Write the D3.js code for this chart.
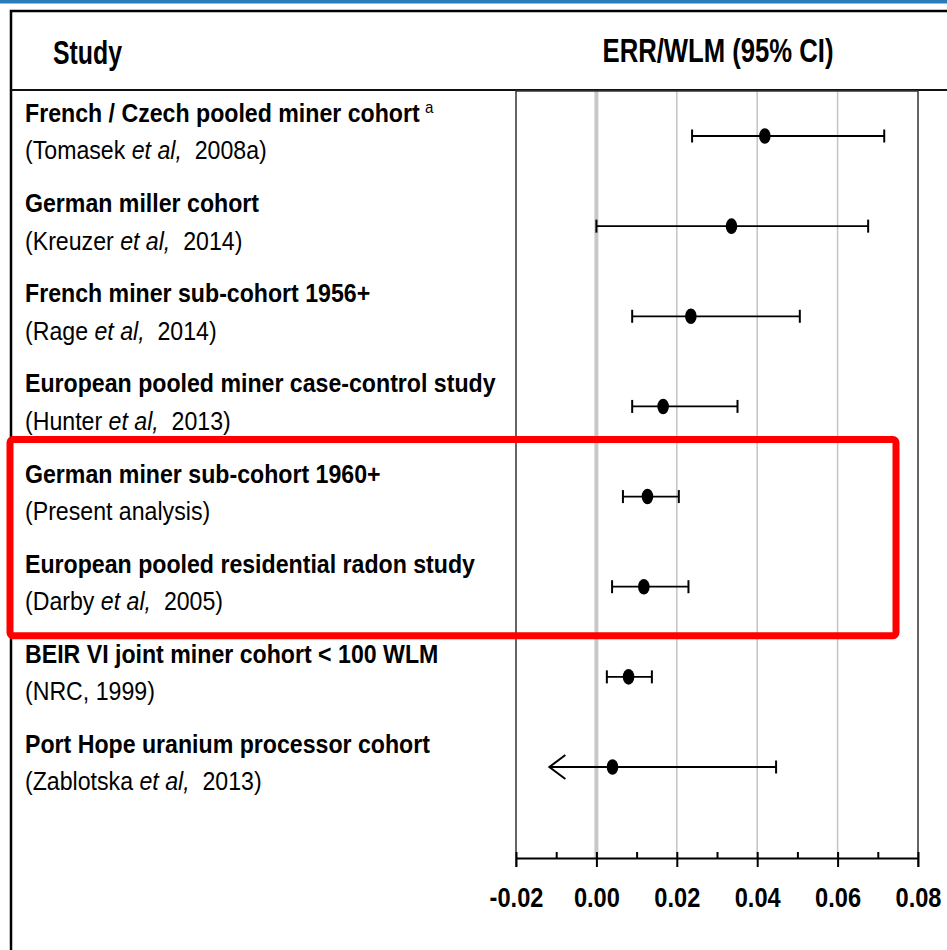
<!DOCTYPE html>
<html>
  <head>
    <meta charset="utf-8">
    <title>ERR/WLM forest plot</title>
    <script src="https://d3js.org/d3.v7.min.js"></script>
    <style>
      body { margin: 0; background: #fff; }
      text { font-family: "Liberation Sans Narrow", "Arial Narrow", "Liberation Sans", Arial, sans-serif; fill: #000; }
    </style>
  </head>
  <body>
    <div id="chart"></div>
    <script>
      // study titles (bold line) and citations (pre, italic, post)
      var studies = [
        "French / Czech pooled miner cohort",
        "German miller cohort",
        "French miner sub-cohort 1956+",
        "European pooled miner case-control study",
        "German miner sub-cohort 1960+",
        "European pooled residential radon study",
        "BEIR VI joint miner cohort < 100 WLM",
        "Port Hope uranium processor cohort"
      ];
      var citations = [
        ["(Tomasek ", "et al,", "  2008a)"],
        ["(Kreuzer ", "et al,", "  2014)"],
        ["(Rage ", "et al,", "  2014)"],
        ["(Hunter ", "et al,", "  2013)"],
        ["(Present analysis)", "", ""],
        ["(Darby ", "et al,", "  2005)"],
        ["(NRC, 1999)", "", ""],
        ["(Zablotska ", "et al,", "  2013)"]
      ];
      var footnotes = ["a", "", "", "", "", "", "", ""];
      // estimates and 95% CI
      var err = [0.0419, 0.0336, 0.0235, 0.0166, 0.0127, 0.0118, 0.0080, 0.0040];
      var lower = [0.0238, 0.0000, 0.0089, 0.0089, 0.0066, 0.0039, 0.0026, -0.0117];
      var upper = [0.0716, 0.0676, 0.0506, 0.0351, 0.0205, 0.0229, 0.0138, 0.0447];
      var openLower = [false, false, false, false, false, false, false, true];
      var highlighted = ["German miner sub-cohort 1960+", "European pooled residential radon study"];
      var majorTicks = [-0.02, 0, 0.02, 0.04, 0.06, 0.08];
      var minorTicks = [-0.01, 0.01, 0.03, 0.05, 0.07];
      var gridTicks = [0.02, 0.04, 0.06];

      var width = 947, height = 950;
      var plotTop = 91, plotBottom = 858;

      var svg = d3.select("#chart").append("svg")
        .attr("width", width)
        .attr("height", height);

      var x = d3.scaleLinear().domain([-0.02, 0.08]).range([516, 918]);
      var y = d3.scalePoint().domain(studies).range([136, 767]);

      // blue strip and table frame
      svg.append("rect")
        .attr("x", 0).attr("y", 0)
        .attr("width", width).attr("height", 3.5)
        .style("fill", "#2b7bb9");
      svg.append("path")
        .attr("d", "M" + width + ",11H11V" + height)
        .style("fill", "none").style("stroke", "#000").style("stroke-width", 2.5);
      svg.append("line")
        .attr("x1", 11).attr("x2", width)
        .attr("y1", 90).attr("y2", 90)
        .style("stroke", "#111").style("stroke-width", 2);

      // header
      var head1 = svg.append("text")
        .attr("x", 53).attr("y", 64)
        .style("font-size", "34px").style("font-weight", "bold")
        .text("Study");
      var head2 = svg.append("text")
        .attr("x", 718).attr("y", 62)
        .attr("text-anchor", "middle")
        .style("font-size", "34px").style("font-weight", "bold")
        .text("ERR/WLM (95% CI)");

      // grid
      svg.selectAll(".grid")
        .data(gridTicks)
        .enter().append("line")
          .attr("x1", x).attr("x2", x)
          .attr("y1", plotTop).attr("y2", plotBottom)
          .style("stroke", "#c4c4c4").style("stroke-width", 1.5);
      svg.append("line")
        .attr("x1", x(0)).attr("x2", x(0))
        .attr("y1", plotTop).attr("y2", plotBottom)
        .style("stroke", "#c8c8c8").style("stroke-width", 4);

      // plot frame
      svg.append("path")
        .attr("d", "M" + x(-0.02) + "," + (plotBottom + 9) + "V" + plotTop + "H" + x(0.08) + "V" + (plotBottom + 9))
        .style("fill", "none").style("stroke", "#333").style("stroke-width", 1.5);

      // axis: major ticks cross the line, minor ticks sit above it
      var axis = svg.append("g")
        .attr("transform", "translate(0," + plotBottom + ")")
        .call(d3.axisBottom(x).tickValues(majorTicks).tickSize(9).tickSizeOuter(0)
          .tickFormat(function(d) { return d3.format(".2f")(d).replace("\u2212", "-"); }));
      axis.select(".domain").style("stroke", "#000").style("stroke-width", 2);
      axis.selectAll(".tick line").attr("y1", -6).style("stroke", "#000").style("stroke-width", 2);
      axis.selectAll(".tick text")
        .attr("y", 49).attr("dy", null)
        .style("font-size", "28px").style("font-weight", "bold")
        .style("font-family", "\"Liberation Sans Narrow\", \"Arial Narrow\", \"Liberation Sans\", Arial, sans-serif")
        .style("fill", "#000");
      svg.append("g")
        .attr("transform", "translate(0," + plotBottom + ")")
        .call(d3.axisBottom(x).tickValues(minorTicks).tickSize(-6).tickFormat(""))
        .call(function(g) {
          g.select(".domain").remove();
          g.selectAll(".tick line").style("stroke", "#000").style("stroke-width", 2);
        });

      // error bars
      var bars = svg.selectAll(".bar")
        .data(studies)
        .enter().append("g")
          .attr("class", "bar")
          .attr("transform", function(d) { return "translate(0," + y(d) + ")"; });
      bars.append("line")
        .attr("x1", function(d, i) { return x(lower[i]); })
        .attr("x2", function(d, i) { return x(upper[i]); })
        .style("stroke", "#000").style("stroke-width", 1.8);
      bars.append("line")
        .attr("x1", function(d, i) { return x(upper[i]); })
        .attr("x2", function(d, i) { return x(upper[i]); })
        .attr("y1", -6.5).attr("y2", 6.5)
        .style("stroke", "#000").style("stroke-width", 2);
      bars.append("path")
        .attr("d", function(d, i) {
          var lx = x(lower[i]);
          return openLower[i] ?
            "M" + (lx + 16) + ",-12L" + lx + ",0L" + (lx + 16) + ",12" :
            "M" + lx + ",-6.5V6.5";
        })
        .style("fill", "none").style("stroke", "#000").style("stroke-width", 2);
      bars.append("ellipse")
        .attr("cx", function(d, i) { return x(err[i]); })
        .attr("rx", 5.8).attr("ry", 7.8)
        .style("fill", "#000");

      // study labels
      var labels = svg.selectAll(".label")
        .data(studies)
        .enter().append("g")
          .attr("class", "label");
      var titles = labels.append("text")
        .attr("x", 25)
        .attr("y", function(d) { return y(d) - 14; })
        .style("font-size", "26px").style("font-weight", "bold");
      titles.append("tspan").text(function(d) { return d; });
      titles.append("tspan")
        .attr("dx", 6).attr("dy", -9)
        .style("font-size", "17px").style("font-weight", "normal")
        .text(function(d, i) { return footnotes[i]; });
      var cites = labels.append("text")
        .attr("x", 25)
        .attr("y", function(d) { return y(d) + 23.5; })
        .style("font-size", "26px")
        .style("white-space", "pre");
      cites.append("tspan").text(function(d, i) { return citations[i][0]; });
      cites.append("tspan").style("font-style", "italic").text(function(d, i) { return citations[i][1]; });
      cites.append("tspan").text(function(d, i) { return citations[i][2]; });

      // the reference is set in a condensed face: stretch/squeeze to fit it
      function squeeze(sel, k) {
        sel.each(function() {
          var t = d3.select(this), x0 = +t.attr("x") || 0;
          t.attr("transform", "translate(" + x0 + ",0) scale(" + k + ",1) translate(" + (-x0) + ",0)");
        });
      }
      var probe = titles.filter(function(d) { return d == "European pooled residential radon study"; })
        .select("tspan").node();
      var k = 450 / probe.getComputedTextLength();
      squeeze(titles, k);
      squeeze(cites, k);
      squeeze(head1, 69 / head1.node().getComputedTextLength());
      squeeze(head2, 231 / head2.node().getComputedTextLength());
      var tick0 = axis.selectAll(".tick text").filter(function(d) { return d == 0; }).node();
      squeeze(axis.selectAll(".tick text"), 46 / tick0.getComputedTextLength());

      // highlight box
      var hi0 = y(highlighted[0]), hi1 = y(highlighted[1]);
      svg.append("rect")
        .attr("x", 10).attr("y", hi0 - 57)
        .attr("width", 886).attr("height", (hi1 - hi0) + 106)
        .attr("rx", 3)
        .style("fill", "none").style("stroke", "#ff0000").style("stroke-width", 7);
    </script>
  </body>
</html>
